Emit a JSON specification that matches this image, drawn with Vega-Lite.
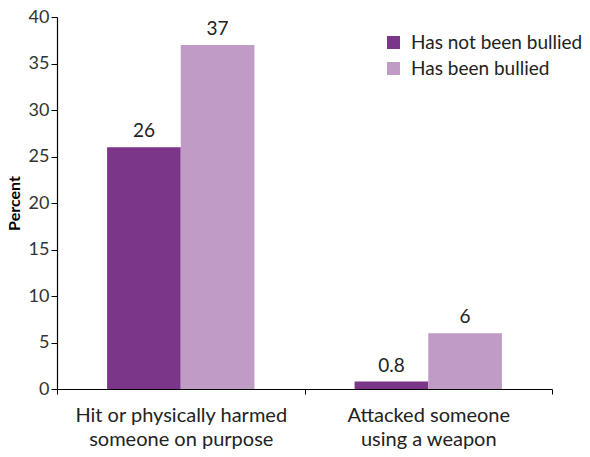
{
  "$schema": "https://vega.github.io/schema/vega-lite/v6.json",
  "width": 495,
  "height": 372,
  "autosize": "none",
  "padding": {"left": 57, "top": 17, "right": 38, "bottom": 68},
  "background": "white",
  "config": {
    "view": {"stroke": null},
    "font": "Lato",
    "axis": {"grid": false, "domainColor": "#000", "tickColor": "#000", "labelColor": "#222", "labelFont": "Lato", "titleFont": "Lato"}
  },
  "data": {
    "values": [
      {"behaviour": "Hit or physically harmed someone on purpose", "group": "Has not been bullied", "percent": 26},
      {"behaviour": "Hit or physically harmed someone on purpose", "group": "Has been bullied", "percent": 37},
      {"behaviour": "Attacked someone using a weapon", "group": "Has not been bullied", "percent": 0.8},
      {"behaviour": "Attacked someone using a weapon", "group": "Has been bullied", "percent": 6}
    ]
  },
  "encoding": {
    "x": {
      "field": "behaviour",
      "type": "nominal",
      "sort": ["Hit or physically harmed someone on purpose", "Attacked someone using a weapon"],
      "scale": {"paddingInner": 0, "paddingOuter": 0},
      "axis": {
        "title": null,
        "labelAngle": 0,
        "labelFontSize": 20,
        "labelLimit": 0,
        "labelPadding": 11,
        "labelLineHeight": 24,
        "labelExpr": "datum.value == 'Hit or physically harmed someone on purpose' ? ['Hit or physically harmed', 'someone on purpose'] : datum.value == 'Attacked someone using a weapon' ? ['Attacked someone', 'using a weapon'] : ''",
        "tickBand": "extent",
        "tickSize": 5,
        "domainWidth": 1.2
      }
    },
    "xOffset": {
      "field": "group",
      "type": "nominal",
      "sort": ["Has not been bullied", "Has been bullied"],
      "scale": {"paddingInner": 0, "paddingOuter": 0.68}
    },
    "y": {
      "field": "percent",
      "type": "quantitative",
      "scale": {"domain": [0, 40], "nice": false},
      "axis": {
        "title": "Percent",
        "titleFontSize": 16,
        "titleFontWeight": "bold",
        "titleColor": "#000",
        "titlePadding": 6,
        "values": [0, 5, 10, 15, 20, 25, 30, 35, 40],
        "labelFontSize": 18,
        "labelColor": "#333",
        "tickSize": 6,
        "labelPadding": 2,
        "domainWidth": 1.2
      }
    }
  },
  "layer": [
    {
      "mark": {"type": "bar"},
      "encoding": {
        "color": {
          "field": "group",
          "type": "nominal",
          "sort": ["Has not been bullied", "Has been bullied"],
          "scale": {"domain": ["Has not been bullied", "Has been bullied"], "range": ["#7B3589", "#BF9BC6"]},
          "legend": {
            "title": null,
            "orient": "none",
            "legendX": 327,
            "legendY": 16,
            "symbolType": "square",
            "symbolSize": 169,
            "symbolStrokeWidth": 0,
            "labelFontSize": 19,
            "labelLimit": 0,
            "labelColor": "#222",
            "labelOffset": 8,
            "rowPadding": 6
          }
        }
      }
    },
    {
      "mark": {"type": "text", "baseline": "alphabetic", "dy": -10, "fontSize": 19, "color": "#222"},
      "encoding": {
        "text": {"field": "percent", "type": "quantitative"}
      }
    }
  ]
}
